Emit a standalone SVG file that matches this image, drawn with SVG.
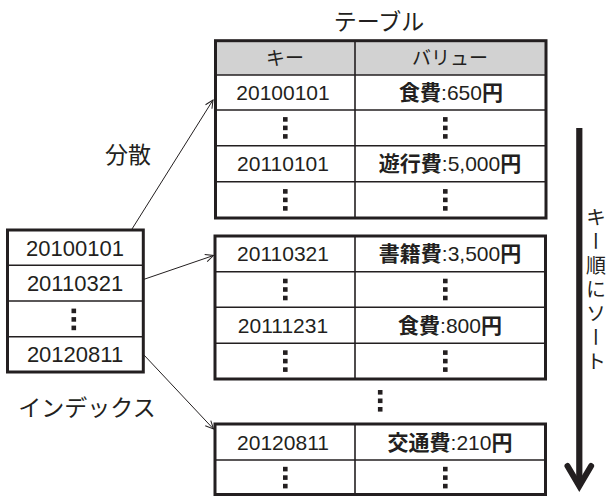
<svg xmlns="http://www.w3.org/2000/svg" width="611" height="496" viewBox="0 0 611 496">
<style>
  .bg { fill: #ffffff; }
  .outer { fill: none; stroke: #231f20; stroke-width: 3; }
  .inner { stroke: #231f20; stroke-width: 1.6; fill: none; }
  .hdr { fill: #d2d2d2; }
  .num { font-family: "Liberation Sans", Arial, sans-serif; font-size: 21px; fill: #231f20; text-anchor: middle; }
  .idx { font-family: "Liberation Sans", Arial, sans-serif; font-size: 22px; fill: #231f20; text-anchor: middle; }
  .val { font-family: "Liberation Sans", "Noto Sans CJK JP", sans-serif; font-size: 21px; fill: #231f20; text-anchor: middle; }
  .b { font-weight: bold; }
  .hd { font-family: "Noto Sans CJK JP", sans-serif; font-size: 19px; fill: #231f20; text-anchor: middle; }
  .lbl { font-family: "Noto Sans CJK JP", sans-serif; font-size: 23px; fill: #231f20; text-anchor: middle; }
  .conn { stroke: #231f20; stroke-width: 1; fill: none; }
  .dot { fill: #231f20; }
</style>
<defs>
  <symbol id="vdots" overflow="visible">
    <rect class="dot" x="-2.3" y="-10.8" width="4.6" height="4.6"/>
    <rect class="dot" x="-2.3" y="-2.3" width="4.6" height="4.6"/>
    <rect class="dot" x="-2.3" y="6.2" width="4.6" height="4.6"/>
  </symbol>
  <marker id="open" markerUnits="userSpaceOnUse" markerWidth="12" markerHeight="12" viewBox="0 0 12 12" refX="10" refY="6" orient="auto">
    <path d="M2,2.2 L10,6 L2,9.8" fill="none" stroke="#231f20" stroke-width="1"/>
  </marker>
</defs>
<rect class="bg" x="0" y="0" width="611" height="496"/>

<text class="lbl" x="379" y="30">テーブル</text>
<text class="lbl" x="128" y="163">分散</text>
<text class="lbl" x="87" y="416">インデックス</text>

<g id="table1">
  <rect class="hdr" x="215.5" y="40.7" width="330.5" height="34.3"/>
  <line class="inner" x1="215.5" y1="75" x2="546" y2="75"/>
  <line class="inner" x1="215.5" y1="110" x2="546" y2="110"/>
  <line class="inner" x1="215.5" y1="145.7" x2="546" y2="145.7"/>
  <line class="inner" x1="215.5" y1="181.7" x2="546" y2="181.7"/>
  <line class="inner" x1="355" y1="40.7" x2="355" y2="218"/>
  <rect class="outer" x="215.5" y="40.7" width="330.5" height="177.3"/>
  <text class="hd" x="285" y="65">キー</text>
  <text class="hd" x="450" y="65">バリュー</text>
  <text class="num" x="283" y="100">20100101</text>
  <text class="val" x="451" y="100"><tspan class="b">食費</tspan>:650<tspan class="b">円</tspan></text>
  <use href="#vdots" x="285.3" y="127.9"/>
  <use href="#vdots" x="445.3" y="127.9"/>
  <text class="num" x="283" y="171.2">20110101</text>
  <text class="val" x="450" y="171.2"><tspan class="b">遊行費</tspan>:5,000<tspan class="b">円</tspan></text>
  <use href="#vdots" x="285.3" y="199.9"/>
  <use href="#vdots" x="445.3" y="199.9"/>
</g>

<g id="table2">
  <line class="inner" x1="215" y1="271.7" x2="545.5" y2="271.7"/>
  <line class="inner" x1="215" y1="307.3" x2="545.5" y2="307.3"/>
  <line class="inner" x1="215" y1="343.3" x2="545.5" y2="343.3"/>
  <line class="inner" x1="355" y1="236" x2="355" y2="379"/>
  <rect class="outer" x="215" y="236" width="330.5" height="143"/>
  <text class="num" x="283" y="261.3">20110321</text>
  <text class="val" x="450" y="261.3"><tspan class="b">書籍費</tspan>:3,500<tspan class="b">円</tspan></text>
  <use href="#vdots" x="285.3" y="289.5"/>
  <use href="#vdots" x="445.3" y="289.5"/>
  <text class="num" x="283" y="332.8">20111231</text>
  <text class="val" x="450" y="332.8"><tspan class="b">食費</tspan>:800<tspan class="b">円</tspan></text>
  <use href="#vdots" x="285.3" y="361.1"/>
  <use href="#vdots" x="445.3" y="361.1"/>
</g>

<g id="gap-dots">
  <use href="#vdots" x="380.2" y="400.8"/>
</g>

<g id="table3">
  <line class="inner" x1="215" y1="460" x2="545.5" y2="460"/>
  <line class="inner" x1="355" y1="424" x2="355" y2="495"/>
  <rect class="outer" x="215" y="424" width="330.5" height="70.5"/>
  <text class="num" x="283" y="449.5">20120811</text>
  <text class="val" x="450" y="449.5"><tspan class="b">交通費</tspan>:210<tspan class="b">円</tspan></text>
  <use href="#vdots" x="285.3" y="477.6"/>
  <use href="#vdots" x="445.3" y="477.6"/>
</g>

<g id="index">
  <line class="inner" x1="7.5" y1="265.3" x2="143.3" y2="265.3"/>
  <line class="inner" x1="7.5" y1="301" x2="143.3" y2="301"/>
  <line class="inner" x1="7.5" y1="336.7" x2="143.3" y2="336.7"/>
  <rect class="outer" x="7.5" y="230" width="135.8" height="142"/>
  <text class="idx" x="75" y="255.6">20100101</text>
  <text class="idx" x="75" y="291">20110321</text>
  <use href="#vdots" x="73.8" y="319.4"/>
  <text class="idx" x="75" y="362.2">20120811</text>
</g>

<g id="connectors">
  <line class="conn" x1="132" y1="229" x2="213" y2="100" marker-end="url(#open)"/>
  <line class="conn" x1="144" y1="279.3" x2="213.5" y2="255.5" marker-end="url(#open)"/>
  <line class="conn" x1="144" y1="355" x2="213.5" y2="429" marker-end="url(#open)"/>
</g>

<g id="sort-arrow">
  <line x1="579.3" y1="128" x2="579.3" y2="484" stroke="#231f20" stroke-width="6.2"/>
  <polyline points="567.5,466 579.3,486 591.1,466" fill="none" stroke="#231f20" stroke-width="6" stroke-linecap="round" stroke-linejoin="miter"/>
  <text x="596" y="207" style="writing-mode: vertical-rl; font-family: 'Noto Sans CJK JP', sans-serif; font-size: 20px; letter-spacing: 4px; fill: #231f20;">キー順にソート</text>
</g>
</svg>
